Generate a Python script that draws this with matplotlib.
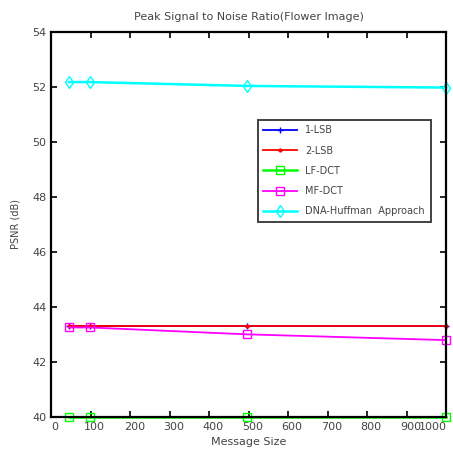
import matplotlib
matplotlib.use("Agg")
import matplotlib.pyplot as plt
from matplotlib.transforms import ScaledTranslation

msg_size = [45, 98, 495, 1000]
lsb1 = [43.3, 43.3, 43.3, 43.3]
lsb2 = [43.3, 43.3, 43.3, 43.3]
lf_dct = [40.0, 40.0, 40.0, 40.0]
mf_dct = [43.25, 43.25, 43.0, 42.79]
dna = [52.18, 52.18, 52.04, 51.98]

xticks = [0, 100, 200, 300, 400, 500, 600, 700, 800, 900, 1000]
yticks = [40, 42, 44, 46, 48, 50, 52, 54]

fig = plt.figure(figsize=(4.53, 4.58), dpi=100)
ax = fig.add_axes([0.113, 0.09, 0.872, 0.84])

tc = '#444444'
ax.plot(msg_size, lsb1, color='#0000ff', marker='+', markersize=5, lw=1.3, label='1-LSB', clip_on=False)
ax.plot(msg_size, lsb2, color='#ff0000', marker='.', markersize=4, lw=1.3, label='2-LSB', clip_on=False)
ax.plot(msg_size, lf_dct, color='#00ff00', marker='s', markersize=6, mfc='none', lw=1.8, label='LF-DCT', clip_on=False)
ax.plot(msg_size, mf_dct, color='#ff00ff', marker='s', markersize=6, mfc='none', lw=1.3, label='MF-DCT', clip_on=False)
ax.plot(msg_size, dna, color='#00ffff', marker='d', markersize=6, mfc='none', lw=1.8, label='DNA-Huffman  Approach', clip_on=False)

ax.set_xlim(0, 1000)
ax.set_ylim(40, 54)
ax.set_xticks(xticks)
ax.set_yticks(yticks)
ax.tick_params(direction='in', top=True, right=True, length=4, width=1.2, labelsize=8, labelcolor=tc)
for s in ax.spines.values():
    s.set_linewidth(1.6)

# shift x tick labels slightly like the reference
labels = ax.get_xticklabels()
for lab in labels[:-1]:
    lab.set_transform(lab.get_transform() + ScaledTranslation(4 / 100, 0, fig.dpi_scale_trans))
labels[-1].set_horizontalalignment('right')
labels[-1].set_transform(labels[-1].get_transform() + ScaledTranslation(1 / 100, 0, fig.dpi_scale_trans))

ax.set_title('Peak Signal to Noise Ratio(Flower Image)', fontsize=8, color=tc, pad=9)
ax.set_xlabel('Message Size', fontsize=8, color=tc, labelpad=4)
ax.set_ylabel('PSNR (dB)', fontsize=7, color=tc, labelpad=8)

leg = ax.legend(loc='upper left', bbox_to_anchor=(0.51, 0.785), fontsize=7, frameon=True,
                fancybox=False, edgecolor='black', handlelength=3.5, labelspacing=1.05,
                borderpad=0.6)
leg.get_frame().set_linewidth(1.3)
for t in leg.get_texts():
    t.set_color(tc)

fig.savefig('out.png', dpi=100)
